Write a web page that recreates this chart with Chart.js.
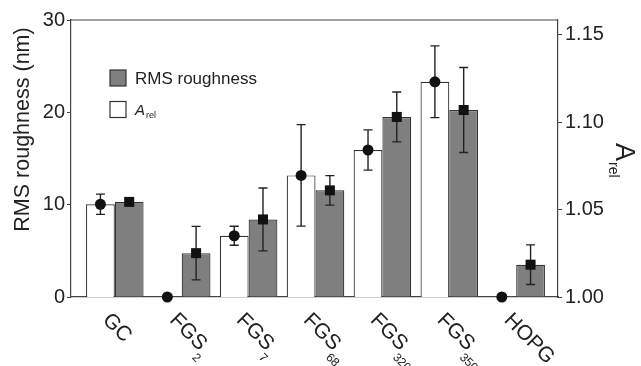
<!DOCTYPE html>
<html>
<head>
<meta charset="utf-8">
<script src="https://cdn.jsdelivr.net/npm/chart.js@4"></script>
<style>
 html,body{margin:0;padding:0;background:#fff}
 canvas{display:block}
</style>
</head>
<body>
<canvas id="c" width="641" height="366"></canvas>
<script>
const FONT='"Liberation Sans", Arial, sans-serif';

// categories (main text + subscript)
const cats=['GC','FGS','FGS','FGS','FGS','FGS','HOPG'];
const catSubs=['','2','7','68','320','350',''];

// RMS roughness (nm), left axis
const rms=[10.3,4.75,8.4,11.55,19.5,20.25,3.5];
const rmsErr=[0.3,2.9,3.4,1.6,2.7,4.6,2.15];

// A_rel, right axis
const arel=[1.053,1.000,1.035,1.0695,1.084,1.123,1.000];
const arelErr=[0.0058,0,0.0054,0.029,0.0115,0.0205,0];

const leftMax=30, rightMin=1.00, rightMax=1.1583;

const extras={
 id:'extras',
 afterDatasetsDraw(c){
  const ctx=c.ctx,a=c.chartArea;
  ctx.save();
  // top line of frame
  ctx.strokeStyle='#444';ctx.lineWidth=1.2;
  ctx.beginPath();ctx.moveTo(a.left,a.top);ctx.lineTo(a.right,a.top);ctx.stroke();

  // error bars and markers
  [[0,arel,arelErr,'yR','circle'],[1,rms,rmsErr,'yL','square']].forEach(([di,vals,errs,ax,shape])=>{
   const sc=c.scales[ax];
   c.getDatasetMeta(di).data.forEach((bar,i)=>{
    const x=bar.x,y=sc.getPixelForValue(vals[i]);
    if(errs[i]>0){
     const y1=sc.getPixelForValue(vals[i]+errs[i]),y2=sc.getPixelForValue(vals[i]-errs[i]);
     ctx.strokeStyle='#222';ctx.lineWidth=1.4;
     ctx.beginPath();
     ctx.moveTo(x,y1);ctx.lineTo(x,y2);
     ctx.moveTo(x-4.5,y1);ctx.lineTo(x+4.5,y1);
     ctx.moveTo(x-4.5,y2);ctx.lineTo(x+4.5,y2);
     ctx.stroke();
    }
    ctx.fillStyle='#111';
    if(shape=='circle'){ctx.beginPath();ctx.arc(x,y,5.5,0,Math.PI*2);ctx.fill()}
    else ctx.fillRect(x-5,y-5,10,10);
   });
  });

  // x labels, rotated, with subscripts
  const xs=c.scales.x;
  ctx.fillStyle='#222';ctx.textBaseline='alphabetic';ctx.textAlign='left';
  cats.forEach((t,i)=>{
   const x=xs.getPixelForValue(i);
   ctx.save();
   ctx.translate(x-13,a.bottom+24);
   ctx.rotate(Math.PI/4);
   ctx.font='21px '+FONT;
   ctx.fillText(t,0,0);
   if(catSubs[i]){
    const w=ctx.measureText(t).width;
    ctx.font='12px '+FONT;
    ctx.fillText(catSubs[i],w-1,10);
   }
   ctx.restore();
  });

  // left axis title
  ctx.save();
  ctx.translate(28.5,129.5);ctx.rotate(-Math.PI/2);
  ctx.font='21.5px '+FONT;ctx.textAlign='center';
  ctx.fillText('RMS roughness (nm)',0,0);
  ctx.restore();

  // right axis title A_rel
  ctx.save();
  ctx.translate(616,143);ctx.rotate(Math.PI/2);
  ctx.font='27px '+FONT;ctx.textAlign='left';
  ctx.fillText('A',0,0);
  let w=ctx.measureText('A').width;
  ctx.font='14px '+FONT;
  ctx.fillText('rel',w+1,7);
  ctx.restore();

  // legend
  ctx.lineWidth=1.2;ctx.strokeStyle='#333';
  ctx.fillStyle='#7f7f7f';ctx.fillRect(110,70,16,16);ctx.strokeRect(110,70,16,16);
  ctx.fillStyle='#fff';ctx.fillRect(110,101.5,16,16);ctx.strokeRect(110,101.5,16,16);
  ctx.fillStyle='#222';ctx.textBaseline='alphabetic';ctx.textAlign='left';
  ctx.font='17px '+FONT;ctx.fillText('RMS roughness',135,84);
  ctx.font='italic 15px '+FONT;ctx.fillText('A',135,115);
  w=ctx.measureText('A').width;
  ctx.font='9px '+FONT;ctx.fillText('rel',135+w+1,118);
  ctx.restore();
 }
};

new Chart(document.getElementById('c'),{
 type:'bar',
 data:{
  datasets:[
   {label:'Arel',data:arel.map((v,i)=>({x:i,y:v})),yAxisID:'yR',
    backgroundColor:'#ffffff',borderColor:'#333',
    borderWidth:ctx=>arel[ctx.dataIndex]>rightMin?1.2:0,borderSkipped:'start'},
   {label:'RMS roughness',data:rms.map((v,i)=>({x:i,y:v})),yAxisID:'yL',
    backgroundColor:'#7f7f7f',borderColor:'#333',borderWidth:1.2,borderSkipped:'start'}
  ]
 },
 options:{
  responsive:false,animation:false,devicePixelRatio:1,
  layout:{padding:{top:20,right:0,bottom:0,left:0}},
  datasets:{bar:{categoryPercentage:0.86,barPercentage:1}},
  plugins:{legend:{display:false},tooltip:{enabled:false}},
  scales:{
   x:{type:'linear',min:-0.655,max:6.625,offset:false,
    ticks:{display:false},grid:{display:false},
    border:{display:true,color:'#444',width:1.2},
    afterFit:s=>{s.height=69}},
   yL:{position:'left',min:0,max:leftMax,
    ticks:{stepSize:10,color:'#222',font:{family:FONT,size:20},padding:2},
    grid:{drawOnChartArea:false,tickLength:4,color:'#444'},
    border:{display:true,color:'#444',width:1.2},
    afterFit:s=>{s.width=71}},
   yR:{position:'right',min:rightMin,max:rightMax,
    ticks:{stepSize:0.05,includeBounds:false,color:'#222',font:{family:FONT,size:20},padding:3,
     callback:v=>v.toFixed(2)},
    grid:{drawOnChartArea:false,tickLength:4,color:'#444'},
    border:{display:true,color:'#444',width:1.2},
    afterFit:s=>{s.width=83}}
  }
 },
 plugins:[extras]
});
</script>
</body>
</html>
